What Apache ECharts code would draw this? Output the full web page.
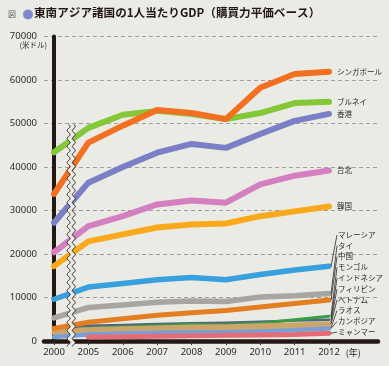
<!DOCTYPE html>
<html>
<head>
<meta charset="utf-8">
<script src="https://cdn.jsdelivr.net/npm/echarts@6/dist/echarts.min.js"></script>
<style>
html,body{margin:0;padding:0;background:#ebebe6;}
#c{width:389px;height:366px;}
</style>
</head>
<body>
<div id="c"></div>
<script>
// ---- data ----
const years = ['2000','2005','2006','2007','2008','2009','2010','2011','2012'];
const yTicks = [0,10000,20000,30000,40000,50000,60000,70000];

const singapore   = [33800, 45600, 49500, 53100, 52400, 51000, 58200, 61400, 61900];
const brunei      = [43400, 49000, 52000, 52900, 52200, 51000, 52400, 54700, 55000];
const hongkong    = [27200, 36400, 40000, 43300, 45300, 44400, 47600, 50600, 52200];
const taiwan      = [20400, 26400, 28700, 31400, 32300, 31800, 36000, 38000, 39200];
const korea       = [17200, 22900, 24500, 26100, 26800, 27000, 28700, 29800, 30900];
const malaysia    = [9600, 12400, 13200, 14100, 14600, 14100, 15300, 16300, 17200];
const thailand    = [5300, 7700, 8300, 8900, 9200, 9100, 10100, 10400, 10900];
const china       = [2900, 4300, 5100, 5900, 6500, 7000, 7800, 8600, 9400];
const mongolia    = [2000, 2900, 3200, 3500, 3800, 3700, 4100, 4900, 5700];
const indonesia   = [2900, 3500, 3700, 3900, 4100, 4200, 4400, 4700, 4900];
const philippines = [3000, 3200, 3300, 3500, 3600, 3600, 3800, 4100, 4400];
const vietnam     = [2000, 2600, 2800, 3000, 3200, 3300, 3500, 3700, 3900];
const laos        = [1500, 1900, 2100, 2200, 2400, 2500, 2700, 2900, 3100];
const cambodia    = [900, 1500, 1700, 1900, 2000, 2000, 2200, 2500, 2900];
const myanmar     = [null, 900, 1000, 1100, 1200, 1300, 1400, 1500, 1800];

// ---- series definitions (drawing order: first is bottom) ----
const defs = [
  {name:'フィリピン', data:philippines, color:'#dcd9cf', w:4, small:true},
  {name:'インドネシア', data:indonesia, color:'#4d6a7c', w:2.5, small:true},
  {name:'モンゴル', data:mongolia, color:'#3a9b48', w:3, small:true},
  {name:'ベトナム', data:vietnam, color:'#cfa468', w:5, small:true},
  {name:'ラオス', data:laos, color:'#c8a972', w:3, small:true},
  {name:'カンボジア', data:cambodia, color:'#79a0d6', w:4.5, small:true},
  {name:'ミャンマー', data:myanmar, color:'#e46c76', w:5, small:true},
  {name:'中国', data:china, color:'#e37e22', w:5, small:true},
  {name:'タイ', data:thailand, color:'#a9a6a1', w:5.5, small:true},
  {name:'マレーシア', data:malaysia, color:'#37a0dd', w:5.5, small:true},
  {name:'韓国', data:korea, color:'#f8aa1c', w:6, small:false},
  {name:'台北', data:taiwan, color:'#d47fbf', w:6, small:false},
  {name:'香港', data:hongkong, color:'#7b80c6', w:6, small:false},
  {name:'ブルネイ', data:brunei, color:'#84c83a', w:6, small:false},
  {name:'シンガポール', data:singapore, color:'#f36f21', w:6, small:false}
];
// label stacking order for the small countries (top to bottom)
const smallOrder = ['マレーシア','タイ','中国','モンゴル','インドネシア','フィリピン','ベトナム','ラオス','カンボジア','ミャンマー'];

const FONT = "'Noto Sans', 'Noto Sans CJK JP', sans-serif";
const JFONT = "'Noto Sans CJK JP', sans-serif";
const idx = years.map((y,i)=>i);

const chart = echarts.init(document.getElementById('c'), null, {renderer:'canvas'});

const series = defs.map(d => ({
  type:'line',
  name:d.name,
  data:d.data.map((v,i)=>[i,v]).filter(p=>p[1]!=null),
  showSymbol:false,
  symbol:'none',
  silent:true,
  lineStyle:{color:d.color, width:d.w, cap:'round', join:'round'},
  itemStyle:{color:d.color},
  endLabel: d.small ? {show:false} : {
    show:true, formatter:d.name, color:'#2a2a2a', fontSize:7.5,
    fontFamily:JFONT, distance:8
  },
  animation:false
}));

chart.setOption({
  backgroundColor:'#ebebe6',
  animation:false,
  textStyle:{fontFamily:FONT},
  grid:{left:44, right:11, top:36.5, bottom:25, outerBoundsMode:'none', containLabel:false},
  xAxis:{
    type:'value', min:-0.291, max:9.425,
    axisLine:{show:true, onZero:false, lineStyle:{color:'#231815', width:4.5}},
    axisTick:{show:true, customValues:idx, length:4, lineStyle:{color:'#333', width:1}},
    axisLabel:{customValues:idx, formatter:v=>years[Math.round(v)], fontSize:9.5, color:'#2a2a2a', margin:7, fontFamily:FONT},
    splitLine:{show:false},
    name:'(年)', nameLocation:'end', nameGap:-38,
    nameTextStyle:{fontSize:9, color:'#2a2a2a', fontFamily:JFONT, align:'left', verticalAlign:'top', padding:[7,0,0,0]}
  },
  yAxis:{
    type:'value', min:yTicks[0], max:yTicks[yTicks.length-1], interval:10000,
    axisLine:{show:true, lineStyle:{color:'#231815', width:4}},
    axisTick:{show:false},
    axisLabel:{fontSize:9.5, color:'#2a2a2a', margin:7, fontFamily:FONT, formatter:v=>String(v)},
    splitLine:{show:true, lineStyle:{color:'#8c8c8c', width:0.8, type:[4,3]}},
    name:'(米ドル)', nameLocation:'end', nameGap:-5,
    nameTextStyle:{fontSize:7.5, color:'#2a2a2a', fontFamily:JFONT, align:'right', verticalAlign:'top', padding:[0,7,0,0]}
  },
  series:series
});

// ---- decorations computed from the chart's own scales ----
const g = [];
// title
g.push({type:'text', left:8, top:10, z:100, style:{text:'図', fontSize:8, fill:'#555', fontFamily:JFONT}});
g.push({type:'circle', shape:{cx:28, cy:14.5, r:5}, z:100, style:{fill:'#8288cc'}});
g.push({type:'text', left:34, top:7, z:100, style:{text:'東南アジア諸国の1人当たりGDP（購買力平価ベース）', fontSize:11.6, fontWeight:'bold', fill:'#231815', fontFamily:JFONT}});

// axis break squiggle between 2000 and 2005
const cx = chart.convertToPixel({xAxisIndex:0}, 0.5);
const yTop = chart.convertToPixel({yAxisIndex:0}, 50000) + 1;
const yBot = chart.convertToPixel({yAxisIndex:0}, 0) + 6;
const left = [], right = [];
for (let y = yTop; y <= yBot; y += 1) {
  const off = 1.6 * Math.sin((y - yTop) / 8 * 2 * Math.PI);
  left.push([cx - 2.6 + off, y]);
  right.push([cx + 2.6 + off, y]);
}
g.push({type:'polygon', z:90, shape:{points:left.concat(right.slice().reverse())}, style:{fill:'#ebebe6', stroke:null}});
g.push({type:'polyline', z:91, shape:{points:left}, style:{stroke:'#231815', lineWidth:0.9, fill:null}});
g.push({type:'polyline', z:91, shape:{points:right}, style:{stroke:'#231815', lineWidth:0.9, fill:null}});

// stacked labels with leader lines for small countries
const ends = {};
defs.forEach(d => {
  if (!d.small) return;
  const last = d.data.length - 1;
  ends[d.name] = chart.convertToPixel({gridIndex:0}, [last, d.data[last]]);
});
const base = ends['ミャンマー'][1] - 1;
const step = 10.8;
smallOrder.forEach((name, k) => {
  const rank = smallOrder.length - 1 - k;
  const ly = base - rank * step;
  const p = ends[name];
  g.push({type:'line', z:95, shape:{x1:p[0]+2, y1:p[1], x2:p[0]+8, y2:ly}, style:{stroke:'#2a2a2a', lineWidth:0.8}});
  g.push({type:'text', z:95, x:p[0]+9, y:ly, style:{text:name, fontSize:7.5, fill:'#2a2a2a', fontFamily:JFONT, verticalAlign:'middle', align:'left'}});
});

chart.setOption({graphic:g});
</script>
</body>
</html>
